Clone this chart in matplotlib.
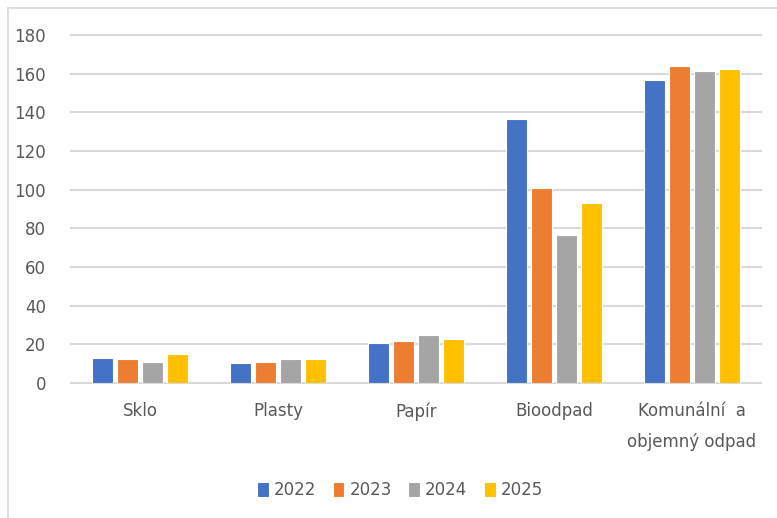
import numpy as np
import matplotlib.pyplot as plt

# data
categories = ['Sklo', 'Plasty', 'Papír', 'Bioodpad', 'Komunální  a\nobjemný odpad']
years = ['2022', '2023', '2024', '2025']
v2022 = [13.0, 10.3, 20.8, 136.5, 156.6]
v2023 = [12.2, 11.1, 21.8, 100.7, 164.2]
v2024 = [11.1, 12.2, 24.7, 76.8, 161.4]
v2025 = [15.1, 12.2, 22.7, 93.0, 162.3]
colors = ['#4472C4', '#ED7D31', '#A5A5A5', '#FFC000']

series = [v2022, v2023, v2024, v2025]
txt = '#595959'

fig = plt.figure(figsize=(7.77, 5.18), dpi=100)
ax = fig.add_axes([71 / 777, 1 - 383 / 518, 690 / 777, 348 / 518])

x = np.arange(len(categories))
pitch = 0.18
for i, (vals, c) in enumerate(zip(series, colors)):
    ax.bar(x + (i - 1.5) * pitch, vals, width=0.155, color=c,
           edgecolor='white', linewidth=0.8, label=years[i], zorder=3)

ax.set_xlim(-0.5, len(categories) - 0.5)
ax.set_ylim(0, 180)
ax.set_yticks(np.arange(0, 181, 20))
# gridlines (not clipped so the top one is full width)
for t in np.arange(20, 181, 20):
    ax.axhline(t, color='#D9D9D9', linewidth=1.5, zorder=0, clip_on=False)
ax.tick_params(axis='both', length=0, colors=txt, labelsize=12)
ax.tick_params(axis='y', pad=18)
ax.tick_params(axis='x', pad=14)
ax.set_xticks(x)
ax.set_xticklabels(categories, linespacing=1.9)
for s in ['top', 'right', 'left']:
    ax.spines[s].set_visible(False)
ax.spines['bottom'].set_color('#D9D9D9')
ax.spines['bottom'].set_linewidth(1.5)

ax.legend(loc='center', bbox_to_anchor=(400 / 777, 1 - 490 / 518),
          bbox_transform=fig.transFigure, ncol=4, frameon=False,
          fontsize=12, labelcolor=txt, handlelength=0.7, handleheight=1.0,
          handletextpad=0.3, columnspacing=1.0)

# chart border (partly visible on left and top)
fig.add_artist(plt.Line2D([8 / 777, 8 / 777], [0, 1 - 8 / 518], color='#D9D9D9', lw=1.2))
fig.add_artist(plt.Line2D([8 / 777, 1], [1 - 8 / 518, 1 - 8 / 518], color='#D9D9D9', lw=1.2))

plt.savefig('out.png', dpi=100)
